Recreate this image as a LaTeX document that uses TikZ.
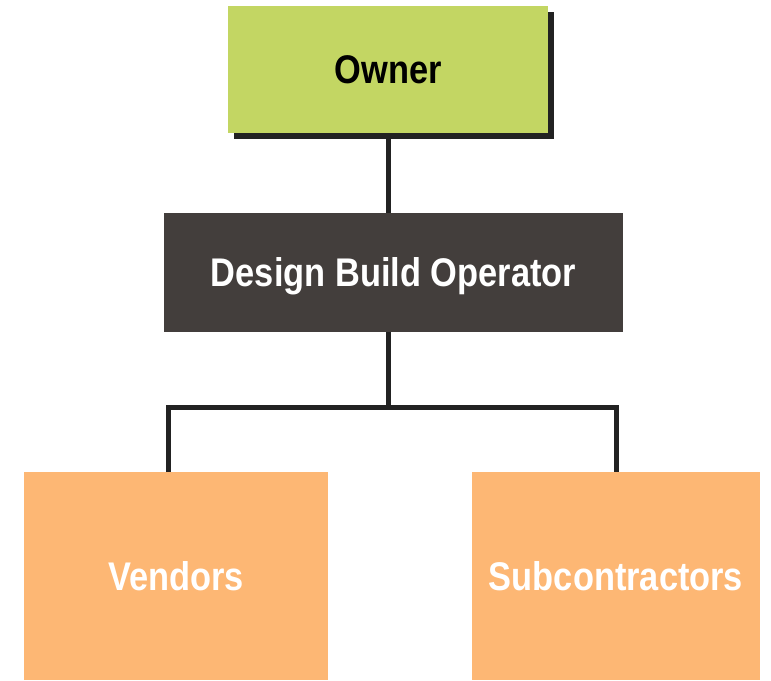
\documentclass[tikz,border=0pt]{standalone}
\usepackage{fontspec}
\setmainfont{Liberation Sans}[FakeStretch=0.86]
\usetikzlibrary{shadows}
\definecolor{ownergreen}{HTML}{C3D663}
\definecolor{dbogray}{HTML}{433E3C}
\definecolor{suborange}{HTML}{FDB774}
\definecolor{linegray}{HTML}{222222}
\begin{document}
\begin{tikzpicture}[x=1pt, y=-1pt,
    box/.style={rectangle, inner sep=0pt, text height=28pt, text depth=0pt,
      font=\fontsize{40}{44}\selectfont\bfseries},
    conn/.style={draw=linegray, line width=5pt}]
    \useasboundingbox (0,0) rectangle (771,680);
    \node[box, fill=ownergreen, minimum width=320pt, minimum height=127pt,
      general shadow={fill=linegray, shadow xshift=6pt, shadow yshift=-6pt}] (owner) at (388,69.5) {Owner};
    \node[box, fill=dbogray, text=white, minimum width=459pt, minimum height=119pt] (dbo) at (393.5,272.5) {Design Build Operator};
    \node[box, fill=suborange, text=white, minimum width=304pt, minimum height=208pt] (vend) at (176,576) {Vendors};
    \node[box, fill=suborange, text=white, minimum width=288pt, minimum height=208pt] (subc) at (616,576) {Subcontractors};
    \coordinate (bar) at (388,407.5);
    \coordinate (vtop) at (168,472);
    \draw[conn] (owner.south) -- (owner.south |- dbo.north);
    \draw[conn] (owner.south |- dbo.south) -- (bar);
    \draw[conn] (vtop) |- (bar) -| (subc.north);
\end{tikzpicture}
\end{document}
